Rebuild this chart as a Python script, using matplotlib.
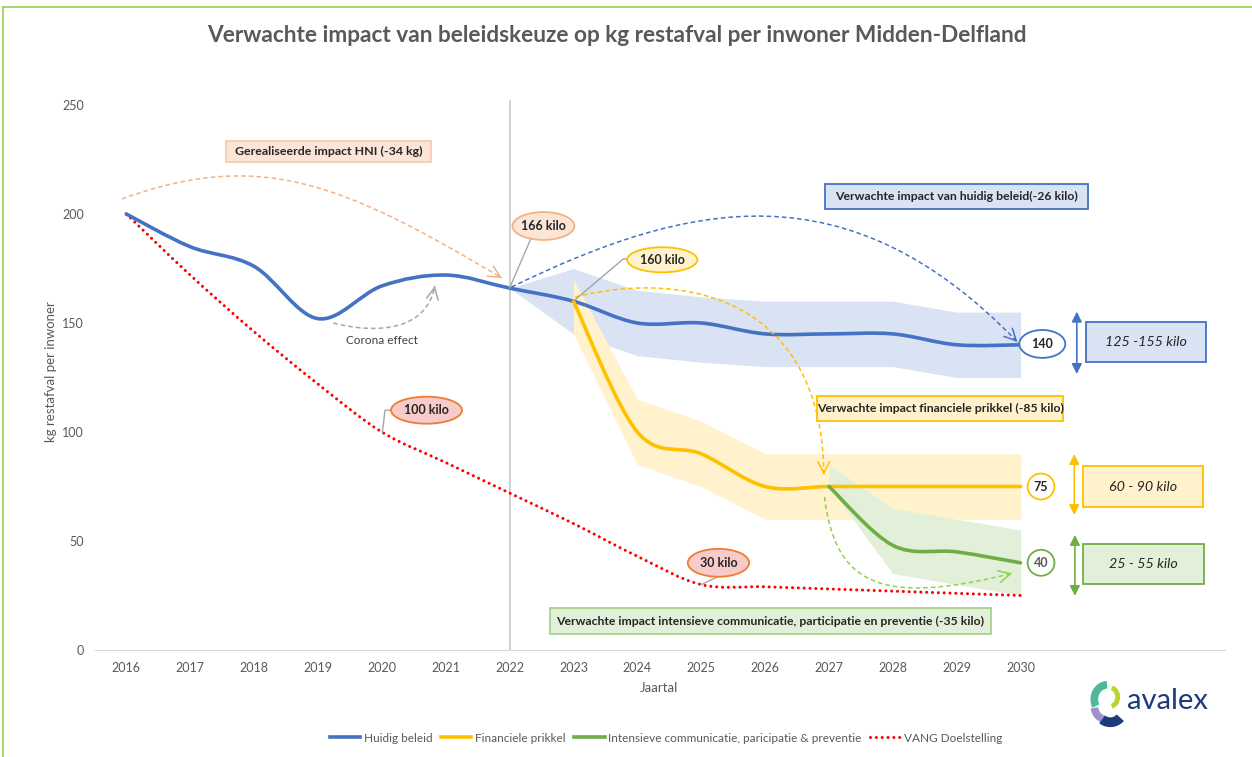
import numpy as np
import matplotlib
matplotlib.use('Agg')
import matplotlib.pyplot as plt
from matplotlib.path import Path
from matplotlib.patches import PathPatch, Ellipse, Rectangle, Arc
from matplotlib.lines import Line2D

# ---- data ----
years = list(range(2016, 2031))
huidig = [200, 185, 176, 152, 167, 172, 166, 160, 150, 150, 145, 145, 145, 140, 140]
vang = [200, 172, 146, 122, 100, 86, 72, 58, 43, 30, 29, 28, 27, 26, 25]

fin_years = list(range(2023, 2031))
financieel = [160, 100, 90, 75, 75, 75, 75, 75]

com_years = list(range(2027, 2031))
communicatie = [75, 48, 45, 40]

huidig_band_years = list(range(2022, 2031))
huidig_low = [166, 145, 135, 132, 130, 130, 130, 125, 125]
huidig_high = [166, 175, 165, 162, 160, 160, 160, 155, 155]
fin_low = [145, 85, 75, 60, 60, 60, 60, 60]
fin_high = [170, 115, 105, 90, 90, 90, 90, 90]
com_low = [75, 35, 30, 25]
com_high = [85, 65, 60, 55]

legend_labels = ['Huidig beleid', 'Financiele prikkel',
                 'Intensieve communicatie, paricipatie & preventie', 'VANG Doelstelling']

BLUE, YELLOW, GREEN, RED = '#4472C4', '#FFC000', '#70AD47', '#FF0000'
GREY = '#595959'
FONT = ['Lato', 'DejaVu Sans']
plt.rcParams['font.family'] = FONT

fig = plt.figure(figsize=(12.52, 7.57), dpi=100)
ax = fig.add_axes([95 / 1252, 1 - 650 / 757, 1130 / 1252, 545 / 757])
ax.set_xlim(2015.51, 2033.2)
ax.set_ylim(0, 250)
for s in ['top', 'right', 'left']:
    ax.spines[s].set_visible(False)
ax.spines['bottom'].set_color('#D9D9D9')
ax.set_xticks(years)
ax.set_yticks(range(0, 251, 50))
ax.tick_params(length=0, colors=GREY, labelsize=9)
ax.tick_params(axis='y', pad=8)
ax.tick_params(axis='x', pad=9)


def smooth_path(xs, ys):
    # excel style smoothed line: bezier segments through the points
    pts = np.column_stack([xs, ys]).astype(float)
    n = len(pts)
    verts = [pts[0]]
    codes = [Path.MOVETO]
    for i in range(n - 1):
        p0 = pts[max(i - 1, 0)]
        p1 = pts[i]
        p2 = pts[i + 1]
        p3 = pts[min(i + 2, n - 1)]
        verts += [p1 + (p2 - p0) / 6, p2 - (p3 - p1) / 6, p2]
        codes += [Path.CURVE4] * 3
    return Path(verts, codes)


# bands
ax.fill_between(huidig_band_years, huidig_low, huidig_high, color='#DAE3F3', lw=0, zorder=1)
ax.fill_between(fin_years, fin_low, fin_high, color='#FFF2CC', lw=0, zorder=1.1)
ax.fill_between(com_years, com_low, com_high, color='#E2F0D9', lw=0, zorder=1.2)

# 2022 marker line
ax.plot([2022, 2022], [0, 252], color='#C8C8C8', lw=1.2, zorder=0.5, clip_on=False)

# lines
dots = (0, (0.01, 1.9))
ax.add_patch(PathPatch(smooth_path(years, vang), fill=False, edgecolor=RED, lw=2.2,
                       linestyle=dots, capstyle='round', zorder=3))
ax.add_patch(PathPatch(smooth_path(years, huidig), fill=False, edgecolor=BLUE, lw=2.6,
                       capstyle='round', zorder=3.1))
ax.add_patch(PathPatch(smooth_path(fin_years, financieel), fill=False, edgecolor=YELLOW, lw=2.6,
                       capstyle='round', zorder=3.2))
ax.add_patch(PathPatch(smooth_path(com_years, communicatie), fill=False, edgecolor=GREEN, lw=2.6,
                       capstyle='round', zorder=3.3))


def dashed_curve(p0, c1, c2, p3, color, lw=1.1):
    path = Path([p0, c1, c2, p3], [Path.MOVETO, Path.CURVE4, Path.CURVE4, Path.CURVE4])
    ax.add_patch(PathPatch(path, fill=False, edgecolor=color, lw=lw,
                           linestyle=(0, (3, 2)), zorder=5))
    start = np.array(p3) - 0.02 * (np.array(p3) - np.array(c2))
    ax.annotate('', xy=p3, xytext=start,
                arrowprops=dict(arrowstyle='->,head_length=0.7,head_width=0.35',
                                color=color, lw=lw, shrinkA=0, shrinkB=0,
                                mutation_scale=12), zorder=5)


dashed_curve((2015.93, 206.9), (2018.1, 230), (2019.4, 214), (2021.88, 170.6), '#F4B183')
dashed_curve((2022.03, 166.5), (2024.8, 206), (2027.3, 222), (2029.95, 141.3), BLUE)
dashed_curve((2023.03, 161.9), (2024.8, 175), (2026.9, 160), (2026.92, 80.3), YELLOW)
dashed_curve((2026.93, 70.2), (2027.1, 30), (2027.8, 20), (2029.87, 35.2), '#92D050')
dashed_curve((2019.24, 150), (2019.9, 145), (2020.7, 146), (2020.83, 167), '#A6A6A6')

ax.text(2020.0, 142, 'Corona effect', ha='center', va='center', fontsize=8.5, color='#404040')


def box(cx, cy, w, h, text, fc, ec, **kw):
    ax.add_patch(Rectangle((cx - w / 2, cy - h / 2), w, h, facecolor=fc, edgecolor=ec,
                           lw=1.3, zorder=6))
    ax.text(cx, cy, text, ha='center', va='center', zorder=7, color='#262626', **kw)


def bubble(cx, cy, w, h, text, fc, ec, tc='#262626'):
    ax.add_patch(Ellipse((cx, cy), w, h, facecolor=fc, edgecolor=ec, lw=1.3, zorder=6))
    ax.text(cx, cy, text, ha='center', va='center', zorder=7, color=tc,
            fontsize=9, fontweight='bold')


def leader(xs, ys):
    ax.plot(xs, ys, color='#A6A6A6', lw=1, zorder=5.5)


def double_arrow(x, y0, y1, color):
    ax.annotate('', xy=(x, y1), xytext=(x, y0),
                arrowprops=dict(arrowstyle='<|-|>,head_length=0.5,head_width=0.25',
                                color=color, lw=1.2, shrinkA=0, shrinkB=0,
                                mutation_scale=12), zorder=6)


box(2019.17, 228.7, 3.21, 9.6, 'Gerealiseerde impact HNI (-34 kg)', '#FBE5D6', '#F8CBAD',
    fontsize=8.9, fontweight='bold')
box(2029.0, 208.0, 4.12, 11.5, 'Verwachte impact van huidig beleid(-26 kilo)', '#DAE3F3', BLUE,
    fontsize=8.8, fontweight='bold')
box(2028.74, 110.8, 3.84, 11.5, 'Verwachte impact financiele prikkel (-85 kilo)', '#FFF2CC', YELLOW,
    fontsize=8.8, fontweight='bold')
box(2026.08, 13.3, 6.9, 11.9,
    'Verwachte impact intensieve communicatie, participatie en preventie (-35 kilo)',
    '#E2F0D9', '#A9D18E', fontsize=8.8, fontweight='bold')
box(2031.97, 141.3, 1.88, 18.3, '125 -155 kilo', '#DAE3F3', BLUE, fontsize=10.3, style='italic')
box(2031.91, 75.0, 1.88, 18.8, '60 - 90 kilo', '#FFF2CC', YELLOW, fontsize=10.3, style='italic')
box(2031.92, 39.4, 1.89, 18.3, '25 - 55 kilo', '#E2F0D9', GREEN, fontsize=10.3, style='italic')

leader([2022, 2022.33], [166, 188.5])
bubble(2022.53, 194.5, 0.97, 12.8, '166 kilo', '#FBE5D6', '#F4B183')
leader([2023, 2023.78, 2023.87], [160, 179.4, 179.4])
bubble(2024.39, 179.0, 1.10, 11.5, '160 kilo', '#FFF2CC', YELLOW)
leader([2020.01, 2020.05, 2020.15], [100, 110, 110])
bubble(2020.70, 110.0, 1.11, 12.4, '100 kilo', '#F8CBCB', '#ED7D31')
leader([2025.0, 2025.26], [30, 33.6])
bubble(2025.27, 40.0, 0.96, 12.8, '30 kilo', '#F8CBCB', '#ED7D31')

bubble(2030.34, 140.4, 0.72, 12.8, '140', 'white', BLUE)
bubble(2030.32, 75.0, 0.42, 11.9, '75', 'white', YELLOW)
bubble(2030.32, 40.0, 0.42, 11.9, '40', 'white', GREEN, tc=GREY)

double_arrow(2030.88, 126.6, 155.2, BLUE)
double_arrow(2030.84, 61.9, 89.9, YELLOW)
double_arrow(2030.85, 24.8, 52.8, GREEN)

# titles and labels
fig.text(617 / 1252, 1 - 35 / 757,
         'Verwachte impact van beleidskeuze op kg restafval per inwoner Midden-Delfland',
         ha='center', va='center', fontsize=16.3, fontweight='bold', color=GREY)
fig.text(51 / 1252, 1 - 372 / 757, 'kg restafval per inwoner', rotation=90,
         ha='center', va='center', fontsize=9.5, color=GREY)
fig.text(659 / 1252, 1 - 688 / 757, 'Jaartal', ha='center', va='center', fontsize=9.5, color=GREY)

# legend
handles = [Line2D([], [], color=BLUE, lw=2.6),
           Line2D([], [], color=YELLOW, lw=2.6),
           Line2D([], [], color=GREEN, lw=2.6),
           Line2D([], [], color=RED, lw=2.2, linestyle=dots, dash_capstyle='round')]
fig.legend(handles, legend_labels, loc='center', bbox_to_anchor=(666 / 1252, 1 - 738 / 757),
           ncol=4, frameon=False, fontsize=8.5, labelcolor=GREY, handlelength=2.6,
           columnspacing=0.7, handletextpad=0.3)

# green frame
fig.add_artist(Line2D([3 / 1252, 1], [1 - 7 / 757] * 2, transform=fig.transFigure,
                      color='#92D050', lw=1.2))
fig.add_artist(Line2D([3 / 1252] * 2, [0, 1 - 7 / 757], transform=fig.transFigure,
                      color='#92D050', lw=1.2))

# logo
fig.text(1127 / 1252, 1 - 701 / 757, 'avalex', ha='left', va='center', fontsize=21,
         color='#1C3B7A', family=['Lato', 'DejaVu Sans'])
lax = fig.add_axes([1088 / 1252, 1 - 734 / 757, 36 / 1252, 56 / 757])
lax.set_xlim(0, 1)
lax.set_ylim(0, 1)
lax.axis('off')
lax.add_patch(Arc((0.55, 0.62), 0.75, 0.52, theta1=95, theta2=200, color='#4DB89A', lw=5.5))
lax.add_patch(Arc((0.6, 0.66), 0.45, 0.34, theta1=-70, theta2=70, color='#B7D431', lw=3.5))
lax.add_patch(Arc((0.55, 0.5), 0.75, 0.5, theta1=185, theta2=245, color='#9D93CB', lw=5.5))
lax.add_patch(Arc((0.62, 0.42), 0.7, 0.42, theta1=215, theta2=335, color='#1C3B7A', lw=7))

fig.savefig('out.png', dpi=100)
